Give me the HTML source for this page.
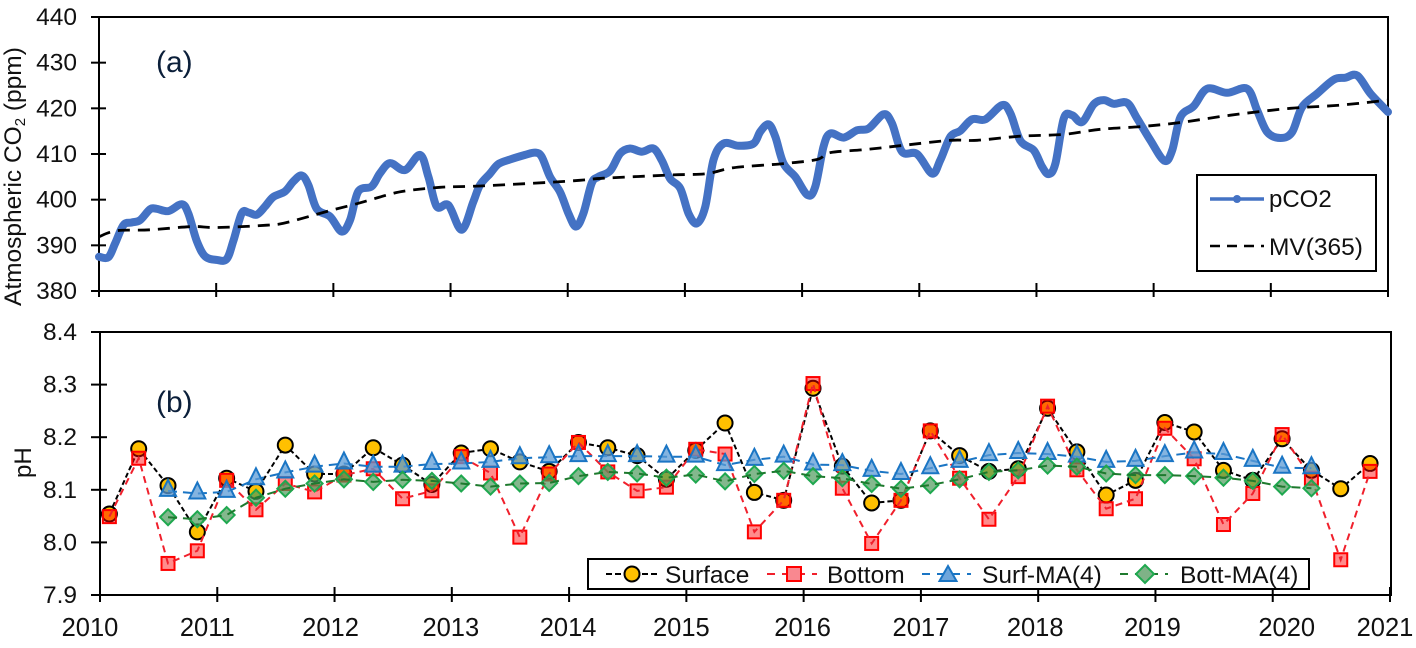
<!DOCTYPE html>
<html lang="en">
<head>
<meta charset="utf-8">
<title>Atmospheric CO2 and pH</title>
<style>
html,body{margin:0;padding:0;background:#fff;width:1416px;height:648px;overflow:hidden}
svg{display:block;font-family:"Liberation Sans",Arial,sans-serif;fill:#111}
</style>
</head>
<body>
<svg id="chart" xmlns="http://www.w3.org/2000/svg" width="1416" height="648" viewBox="0 0 1416 648">
  <g id="panelA">
    <rect x="99" y="17" width="1289" height="274" fill="none" stroke="#000" stroke-width="2"/>
    <text x="156" y="72" font-size="30" fill="#0b1f3a">(a)</text>
    <text transform="translate(21,306) rotate(-90)" font-size="24.5">Atmospheric CO<tspan font-size="15" dy="4">2</tspan><tspan dy="-4"> (ppm)</tspan></text>
  </g>
  <g id="panelB">
    <rect x="100" y="332" width="1291" height="263" fill="none" stroke="#000" stroke-width="2"/>
    <text x="156" y="412" font-size="30" fill="#0b1f3a">(b)</text>
    <text transform="translate(31,478) rotate(-90)" font-size="24">pH</text>
  </g>
  <g id="legendA">
    <rect x="1197" y="175" width="179" height="96" fill="#fff" stroke="#000" stroke-width="2"/>
    <g>
      <line x1="1210" y1="199" x2="1264" y2="199" stroke="#4472C4" stroke-width="3.5"/>
      <circle cx="1237" cy="199" r="4" fill="#4472C4"/>
      <text x="1269" y="207" font-size="24">pCO2</text>
    </g>
    <g>
      <line x1="1210" y1="246" x2="1264" y2="246" stroke="#000" stroke-width="2.6" stroke-dasharray="10 7"/>
      <text x="1269" y="255" font-size="24.5">MV(365)</text>
    </g>
  </g>
  <g id="marksLayer"></g>
  <g id="legendB">
    <rect x="588" y="559" width="721" height="30" fill="#fff" stroke="#000" stroke-width="2"/>
    <g>
      <line x1="606" y1="574" x2="660" y2="574" stroke="#000" stroke-width="2" stroke-dasharray="6 3"/>
      <circle cx="632" cy="574" r="7.5" fill="#FFC000" stroke="#000" stroke-width="2"/>
      <text x="665" y="583" font-size="24.5">Surface</text>
    </g>
    <g>
      <line x1="767" y1="574" x2="817" y2="574" stroke="#f0202c" stroke-width="2" stroke-dasharray="8 7"/>
      <rect x="787" y="567" width="14" height="14" fill="#f98890" stroke="#f00" stroke-width="2"/>
      <text x="827" y="583" font-size="24.5">Bottom</text>
    </g>
    <g>
      <line x1="922" y1="574" x2="971" y2="574" stroke="#1a75c4" stroke-width="2" stroke-dasharray="8 7"/>
      <polygon points="948,566 956.5,581 939.5,581" fill="#6ea6dc" stroke="#1a75c4" stroke-width="2"/>
      <text x="982" y="583" font-size="24.5">Surf-MA(4)</text>
    </g>
    <g>
      <line x1="1120" y1="574" x2="1168" y2="574" stroke="#1e7a2e" stroke-width="2" stroke-dasharray="8 7"/>
      <polygon points="1145,565 1154,574 1145,583 1136,574" fill="#7fb287" stroke="#1fa84f" stroke-width="2"/>
      <text x="1180" y="583" font-size="24.5">Bott-MA(4)</text>
    </g>
  </g>
</svg>
<script>
// ---- Panel (a) data: year offset from 2010 and ppm ----
const pco2Dates = [0,.08,.137,.208,.279,.35,.435,.492,.592,.706,.762,.834,.905,1.004,1.09,1.147,1.218,1.275,1.346,1.417,1.488,1.587,1.659,1.73,1.787,1.858,1.972,2.071,2.142,2.213,2.327,2.398,2.484,2.612,2.74,2.811,2.882,2.982,3.095,3.194,3.251,3.337,3.408,3.507,3.636,3.721,3.778,3.849,3.934,4.006,4.071,4.134,4.205,4.262,4.362,4.447,4.532,4.632,4.732,4.803,4.874,4.96,5.031,5.102,5.173,5.244,5.33,5.458,5.586,5.643,5.714,5.771,5.842,5.942,6.047,6.112,6.183,6.24,6.355,6.469,6.568,6.696,6.767,6.853,6.981,7.11,7.18,7.266,7.351,7.451,7.565,7.707,7.778,7.863,7.977,8.048,8.105,8.162,8.233,8.304,8.39,8.489,8.575,8.66,8.774,8.859,8.972,9.092,9.158,9.229,9.343,9.457,9.627,9.798,9.883,9.969,10.083,10.182,10.267,10.395,10.538,10.637,10.737,10.851,11];
const pco2Values = [387.5,387.4,390.4,394.4,395,395.5,397.9,398,397.5,399,397,391,387.6,386.8,387,391,397,397.2,396.7,398.5,400.6,401.8,404,405.3,403.2,398,396.3,393,395.5,401.8,402.9,405.8,408,406.5,409.8,405,398.5,398.8,393.4,399.5,403.2,405.7,407.8,408.8,409.8,410.3,409.4,405,401.7,397,394.1,397,403.6,405,406.3,410.1,411.2,410.5,411.2,408.6,404.6,402.5,397,394.8,398.4,408.7,412.3,411.8,412.3,414.9,416.5,413.8,407.9,405,401,402.8,411.6,414.5,413.6,415.2,415.6,418.7,416.7,410.5,410,405.7,408.7,413.8,415.1,417.6,417.6,420.7,418.9,412.9,410.8,407.2,405.6,407.9,417.8,418.5,417,420.9,421.8,421,421.2,417.8,413,408.5,410.8,418.1,420.5,424.3,423.4,424.3,419.6,414.8,413.5,414.8,420.3,423.2,426.3,426.7,427.2,423.2,419.2];
const mvDates = [0,.151,.435,.791,1.004,1.431,1.602,1.943,2.213,2.455,2.612,2.91,3.251,3.849,4.134,4.305,4.874,5.187,5.415,5.842,6.127,6.24,6.554,6.867,7.267,7.494,7.863,8.233,8.546,8.888,9.229,9.656,10.168,10.595,11];
const mvValues = [391.9,393.2,393.4,394.1,393.9,394.4,395,397.4,399.2,401,401.9,402.7,403,403.8,404.3,404.7,405.4,405.7,407,407.9,408.8,410.3,411,411.9,413,413,413.9,414.3,415.4,416,416.9,418.5,420,420.7,421.8];

// ---- Panel (b) data: quarterly pH, four per year from 2010 to 2020 ----
const surfacePH = [8.054,8.178,8.108,8.02,8.122,8.097,8.185,8.13,8.13,8.18,8.147,8.11,8.17,8.178,8.153,8.135,8.19,8.18,8.165,8.12,8.175,8.227,8.095,8.08,8.293,8.145,8.075,8.08,8.212,8.165,8.135,8.14,8.255,8.172,8.09,8.118,8.228,8.21,8.137,8.118,8.197,8.137,8.102,8.15];
const bottomPH = [8.049,8.16,7.96,7.984,8.118,8.062,8.112,8.096,8.128,8.14,8.083,8.098,8.163,8.132,8.01,8.13,8.19,8.134,8.098,8.105,8.177,8.168,8.02,8.08,8.302,8.103,7.998,8.08,8.212,8.122,8.044,8.125,8.259,8.138,8.064,8.083,8.217,8.159,8.034,8.093,8.205,8.122,7.967,8.135];
const surfMA = [null,null,8.098,8.093,8.096,8.12,8.133,8.144,8.15,8.144,8.144,8.149,8.15,8.153,8.16,8.162,8.164,8.164,8.164,8.163,8.163,8.147,8.157,8.163,8.148,8.147,8.136,8.13,8.141,8.153,8.166,8.17,8.168,8.163,8.153,8.155,8.164,8.171,8.168,8.155,8.142,8.141];
const bottMA = [null,null,8.048,8.044,8.052,8.085,8.102,8.112,8.12,8.115,8.119,8.117,8.112,8.106,8.112,8.113,8.126,8.134,8.131,8.123,8.129,8.116,8.13,8.136,8.126,8.122,8.111,8.102,8.109,8.12,8.134,8.137,8.146,8.144,8.131,8.128,8.128,8.126,8.123,8.117,8.106,8.103];

// ---- Tick labels ----
const co2Ticks = [380,390,400,410,420,430,440];
const phTicks = [7.9,8.0,8.1,8.2,8.3,8.4];
const yearLabels = [2010,2011,2012,2013,2014,2015,2016,2017,2018,2019,2020,2021];

// ---- Layout (not data) ----
const A = {left:99, right:1388, top:17, bottom:291, min:380, max:440};
const B = {left:100, right:1390, top:332, bottom:595, min:7.9, max:8.4};
const yearLabelNudge = [-10,-10,-4,-1,-1,-5,-1,0,-3,-3,14,-5];
const SVGNS = 'http://www.w3.org/2000/svg';
const layer = document.getElementById('marksLayer');

function xA(t){ return A.left + t/11*(A.right-A.left); }
function yA(v){ return A.bottom - (v-A.min)/(A.max-A.min)*(A.bottom-A.top); }
function xB(t){ return B.left + t/11*(B.right-B.left); }
function yB(v){ return B.bottom - (v-B.min)/(B.max-B.min)*(B.bottom-B.top); }
function quarterT(i){ return 0.08 + i*0.25; }

function make(tag, attrs, parent){
  const n = document.createElementNS(SVGNS, tag);
  for (const k in attrs) n.setAttribute(k, attrs[k]);
  (parent || layer).appendChild(n);
  return n;
}
function smoothPath(pts){
  let d = 'M' + pts[0][0].toFixed(1) + ' ' + pts[0][1].toFixed(1);
  for (let i = 0; i < pts.length-1; i++){
    const p0 = pts[Math.max(0,i-1)], p1 = pts[i], p2 = pts[i+1], p3 = pts[Math.min(pts.length-1,i+2)];
    const c1x = p1[0]+(p2[0]-p0[0])/6, c1y = p1[1]+(p2[1]-p0[1])/6;
    const c2x = p2[0]-(p3[0]-p1[0])/6, c2y = p2[1]-(p3[1]-p1[1])/6;
    d += 'C' + c1x.toFixed(1) + ' ' + c1y.toFixed(1) + ' ' + c2x.toFixed(1) + ' ' + c2y.toFixed(1) + ' ' + p2[0].toFixed(1) + ' ' + p2[1].toFixed(1);
  }
  return d;
}

// Axis ticks and labels
co2Ticks.forEach(function(v){
  const t = make('line', {x1:91, x2:106, y1:yA(v), y2:yA(v), stroke:'#000', 'stroke-width':2});
  
  
  const l = make('text', {x:77, y:yA(v)+8, 'text-anchor':'end', 'font-size':24.5});
  
  
  l.textContent = String(v);
});
phTicks.forEach(function(v){
  const t = make('line', {x1:91, x2:107, y1:yB(v), y2:yB(v), stroke:'#000', 'stroke-width':2});
  
  
  const l = make('text', {x:77, y:yB(v)+8, 'text-anchor':'end', 'font-size':24.5});
  
  
  l.textContent = v.toFixed(1);
});
yearLabels.forEach(function(yr, i){
  const t = yr - yearLabels[0];
  const ta = make('line', {x1:xA(t), x2:xA(t), y1: i===0||i===11 ? 291 : 283, y2:297, stroke:'#000', 'stroke-width':2});
  
  
  const tb = make('line', {x1:xB(t), x2:xB(t), y1: i===0 ? 595 : 587, y2:602, stroke:'#000', 'stroke-width':2});
  
  
  const l = make('text', {x:xB(t)+yearLabelNudge[i], y:636, 'text-anchor':'middle', 'font-size':25.5});
  
  
  l.textContent = String(yr);
});

// Panel (a) series
const co2Line = make('path', {d:smoothPath(pco2Values.map(function(v,i){return [xA(pco2Dates[i]), yA(v)];})), fill:'none', stroke:'#4472C4', 'stroke-width':8, 'stroke-linejoin':'round', 'stroke-linecap':'round'});


const mvLine = make('path', {d:smoothPath(mvValues.map(function(v,i){return [xA(mvDates[i]), yA(v)];})), fill:'none', stroke:'#000', 'stroke-width':2.8, 'stroke-dasharray':'12 8'});



// Panel (b) series
function linePoints(arr){
  const out = [];
  arr.forEach(function(v,i){ if (v !== null) out.push(xB(quarterT(i)).toFixed(1)+','+yB(v).toFixed(1)); });
  return out.join(' ');
}
const surfaceLine = make('polyline', {points:linePoints(surfacePH), fill:'none', stroke:'#000', 'stroke-width':2, 'stroke-dasharray':'5 3'});


surfacePH.forEach(function(v,i){
  const m = make('circle', {cx:xB(quarterT(i)), cy:yB(v), r:7.5, fill:'#FFC000', stroke:'#000', 'stroke-width':2});
  
  
});
bottomPH.forEach(function(v,i){
  const m = make('rect', {x:xB(quarterT(i))-6.5, y:yB(v)-6.5, width:13, height:13, fill:'#ff0000', 'fill-opacity':0.45, stroke:'#f00', 'stroke-width':2});
  
  
});
const bottomLine = make('polyline', {points:linePoints(bottomPH), fill:'none', stroke:'#f0202c', 'stroke-width':2, 'stroke-dasharray':'7 5'});


const surfMALine = make('polyline', {points:linePoints(surfMA), fill:'none', stroke:'#1a75c4', 'stroke-width':2, 'stroke-dasharray':'9 6'});


surfMA.forEach(function(v,i){
  if (v === null) return;
  const x = xB(quarterT(i)), y = yB(v);
  const pts = x+','+(y-11)+' '+(x+8)+','+(y+5)+' '+(x-8)+','+(y+5);
  const m = make('polygon', {points:pts, fill:'#5B9BD5', 'fill-opacity':0.75, stroke:'#1a75c4', 'stroke-width':2});
  
  
});
bottMA.forEach(function(v,i){
  if (v === null) return;
  const x = xB(quarterT(i)), y = yB(v);
  const pts = x+','+(y-8)+' '+(x+8)+','+y+' '+x+','+(y+8)+' '+(x-8)+','+y;
  const m = make('polygon', {points:pts, fill:'#4f9a5c', 'fill-opacity':0.7, stroke:'#1fa84f', 'stroke-width':2});
  
  
});
const bottMALine = make('polyline', {points:linePoints(bottMA), fill:'none', stroke:'#1e7a2e', 'stroke-width':2, 'stroke-dasharray':'9 6'});



// Legends stay above the marks
const root = document.getElementById('chart');
root.appendChild(document.getElementById('legendA'));
root.appendChild(document.getElementById('legendB'));
</script>
</body>
</html>
